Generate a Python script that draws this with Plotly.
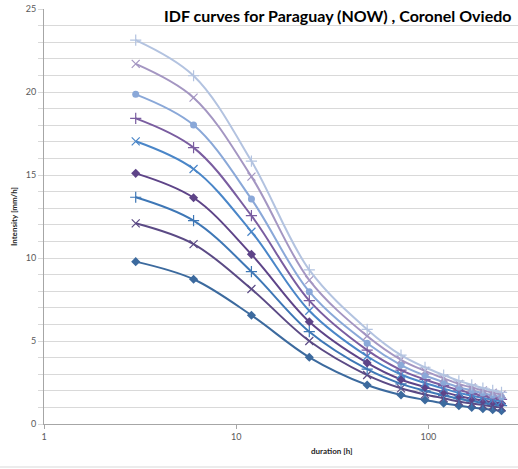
import plotly.graph_objects as go

durations = [3, 6, 12, 24, 48, 72, 96, 120, 144, 168, 192, 216, 240]

s1 = [9.78, 8.72, 6.55, 4.02, 2.35, 1.75, 1.45, 1.25, 1.10, 1.00, 0.92, 0.86, 0.80]
s2 = [12.09, 10.84, 8.13, 5.00, 2.95, 2.15, 1.78, 1.55, 1.36, 1.24, 1.14, 1.06, 1.00]
s3 = [13.66, 12.25, 9.18, 5.56, 3.30, 2.42, 2.00, 1.73, 1.52, 1.38, 1.27, 1.18, 1.11]
s4 = [15.10, 13.63, 10.22, 6.16, 3.68, 2.68, 2.22, 1.92, 1.69, 1.53, 1.41, 1.31, 1.23]
s5 = [17.03, 15.36, 11.58, 6.82, 4.08, 2.98, 2.47, 2.13, 1.88, 1.71, 1.57, 1.46, 1.37]
s6 = [18.41, 16.65, 12.55, 7.43, 4.45, 3.25, 2.68, 2.31, 2.04, 1.85, 1.70, 1.58, 1.48]
s7 = [19.86, 18.01, 13.55, 7.97, 4.86, 3.55, 2.92, 2.52, 2.22, 2.02, 1.86, 1.73, 1.62]
s8 = [21.69, 19.66, 14.90, 8.67, 5.30, 3.87, 3.20, 2.75, 2.42, 2.20, 2.03, 1.88, 1.77]
s9 = [23.13, 20.98, 15.84, 9.28, 5.70, 4.15, 3.42, 2.95, 2.60, 2.36, 2.17, 2.02, 1.90]

series = [s1, s2, s3, s4, s5, s6, s7, s8, s9]
colors = ["#3C6A9E", "#5B4A85", "#3E77B6", "#5E4488", "#4A86C8",
          "#7A5DA0", "#8AA8D8", "#A496C2", "#B3C3E0"]
symbols = ["diamond", "x-thin-open", "cross-thin-open", "diamond", "x-thin-open",
           "cross-thin-open", "circle", "x-thin-open", "cross-thin-open"]

y_tickvals = list(range(0, 26))
y_ticktext = [str(v) if v % 5 == 0 else "" for v in y_tickvals]
x_tickvals = [1, 10, 100]
x_ticktext = ["1", "10", "100"]

title_text = "IDF curves for Paraguay (NOW) , Coronel Oviedo"
x_title = "duration [h]"
y_title = "Intensity [mm/h]"

fig = go.Figure()
for vals, col, sym in zip(series, colors, symbols):
    filled = not sym.endswith("open")
    fig.add_trace(go.Scatter(
        x=durations, y=vals, mode="lines+markers",
        line=dict(color=col, width=2, shape="spline", smoothing=1.0),
        marker=dict(symbol=sym, size=7 if filled else 8, color=col,
                    line=dict(color=col, width=1.2 if not filled else 0)),
        showlegend=False, hoverinfo="skip",
    ))

font_family = "Lato, Liberation Sans, sans-serif"
fig.update_layout(
    width=518, height=469,
    margin=dict(l=44, r=0, t=9, b=45),
    paper_bgcolor="white", plot_bgcolor="white",
    font=dict(family=font_family, size=9, color="#595959"),
    xaxis=dict(type="log", range=[0, 2.466], tickvals=x_tickvals, ticktext=x_ticktext,
               ticks="outside", ticklen=4, tickcolor="#a6a6a6", automargin=False,
               showgrid=False, showline=True, linecolor="#a6a6a6", linewidth=1,
               zeroline=False, tickfont=dict(size=9, color="#595959")),
    yaxis=dict(range=[0, 25], tickvals=y_tickvals, ticktext=y_ticktext, automargin=False,
               ticks="outside", ticklen=5, tickcolor="#d9d9d9",
               showgrid=True, gridcolor="#d9d9d9", gridwidth=1,
               showline=True, linecolor="#a6a6a6", linewidth=1, zeroline=False,
               tickfont=dict(size=9, color="#595959"),
               title=dict(text="<b>" + y_title + "</b>", standoff=6,
                          font=dict(size=8, color="#262626"))),
)

fig.add_annotation(text="<b>" + title_text + "</b>", xref="paper", yref="paper",
                   x=(162 - 44) / 474, y=(424 - 16) / 415, xanchor="left", yanchor="middle",
                   showarrow=False, font=dict(family=font_family, size=16, color="#000000"))
fig.add_annotation(text="<b>" + x_title + "</b>", xref="paper", yref="paper",
                   x=(332 - 44) / 474, y=-(451 - 424) / 415, xanchor="center", yanchor="middle",
                   showarrow=False, font=dict(family=font_family, size=8, color="#262626"))
fig.add_shape(type="line", xref="paper", yref="paper",
              x0=-44 / 474, x1=1, y0=-(467 - 424) / 415, y1=-(467 - 424) / 415,
              line=dict(color="#d9d9d9", width=1))

fig.write_html("out.html", config={"displayModeBar": False},
               post_script="document.body.style.margin='0';")
